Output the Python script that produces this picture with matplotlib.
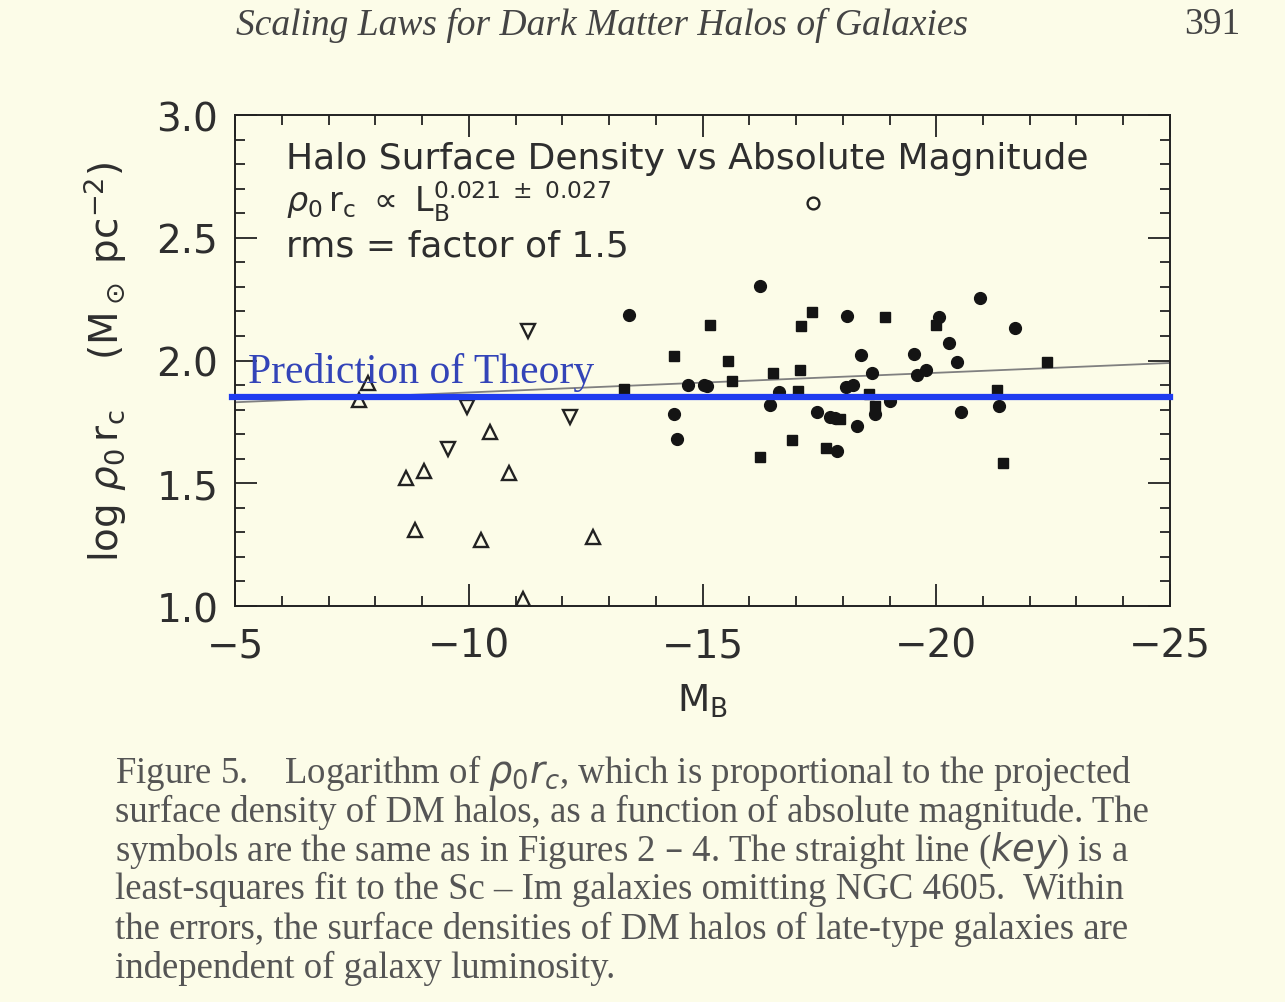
import numpy as np
from matplotlib import pyplot as plt
from matplotlib.ticker import MultipleLocator

plt.rcParams.update({
    "font.family": ["DejaVu Sans"],
    "mathtext.fontset": "dejavusans",
})

# data: (M_B, log rho0 rc)
tri_up_mb = [-7.85, -7.66, -8.65, -9.05, -8.85, -10.45, -10.86, -10.26, -12.66, -11.15]
tri_up_y = [1.91, 1.84, 1.52, 1.55, 1.31, 1.71, 1.54, 1.27, 1.28, 1.03]

tri_dn_mb = [-11.27, -9.96, -12.17, -9.55]
tri_dn_y = [2.12, 1.81, 1.77, 1.64]

open_mb = [-17.36]
open_y = [2.64]

dot_mb = [-13.43, -16.22, -14.69, -15.03, -15.10, -16.64, -16.44, -14.38, -14.46,
          -17.45, -17.73, -17.83, -17.87, -18.10, -20.06, -20.94, -21.68, -18.39,
          -19.52, -20.28, -20.45, -18.62, -19.58, -19.78, -18.08, -18.21, -18.69,
          -19.01, -18.31, -20.52, -21.35]
dot_y = [2.185, 2.305, 1.902, 1.899, 1.895, 1.873, 1.819, 1.782, 1.680,
         1.792, 1.769, 1.766, 1.633, 2.183, 2.178, 2.253, 2.132, 2.024,
         2.026, 2.071, 1.993, 1.949, 1.941, 1.963, 1.891, 1.900, 1.782,
         1.836, 1.732, 1.789, 1.816]

sq_mb = [-15.16, -14.39, -15.55, -17.35, -17.11, -16.50, -17.09, -15.64, -13.31,
         -17.05, -16.91, -16.23, -17.64, -18.90, -19.99, -22.36, -18.57, -18.69,
         -17.94, -21.29, -21.42]
sq_y = [2.145, 2.017, 1.998, 2.199, 2.142, 1.948, 1.961, 1.917, 1.884,
        1.877, 1.677, 1.606, 1.644, 2.176, 2.145, 1.995, 1.864, 1.816,
        1.762, 1.881, 1.582]

fit_mb = [-5, -25]
fit_y = [1.83, 1.99]
theory_y = 1.85

caption = [
    r"Figure 5.    Logarithm of $\rho_0 r_c$, which is proportional to the projected",
    "surface density of DM halos, as a function of absolute magnitude. The",
    r"symbols are the same as in Figures 2 – 4. The straight line ($\mathit{key}$) is a",
    "least-squares fit to the Sc – Im galaxies omitting NGC 4605.  Within",
    "the errors, the surface densities of DM halos of late-type galaxies are",
    "independent of galaxy luminosity.",
]

paper = "#fcfce8"
ink = "#222222"
txt_col = "#2e2e2e"

fig = plt.figure(figsize=(12.85, 10.03), dpi=100, facecolor=paper)
ax = fig.add_axes([0.1829, 0.3948, 0.7276, 0.4895], facecolor=paper)

ax.plot(fit_mb, fit_y, "-", color="#808080", lw=1.3, zorder=2)
ax.plot(tri_up_mb, tri_up_y, "^", ms=9.5, mfc="none", mec=ink, mew=1.7, ls="none")
ax.plot(tri_dn_mb, tri_dn_y, "v", ms=9.5, mfc="none", mec=ink, mew=1.7, ls="none")
ax.plot(open_mb, open_y, "o", ms=8.5, mfc="none", mec=ink, mew=1.7, ls="none")
ax.plot(dot_mb, dot_y, "o", ms=8.5, color="#141414", ls="none")
ax.plot(sq_mb, sq_y, "s", ms=7, color="#141414", ls="none")
ax.axhline(theory_y, color="#1f3cf0", lw=4.5, zorder=5, xmin=-0.003, clip_on=False)

ax.text(-5.28, 1.912, "Prediction of Theory", family="Liberation Serif",
        fontsize=30, color="#3344b8", zorder=6)

ax.set_xlim(-5, -25)
ax.set_ylim(1.0, 3.0)
ax.xaxis.set_major_locator(MultipleLocator(5))
ax.xaxis.set_minor_locator(MultipleLocator(1))
ax.yaxis.set_major_locator(MultipleLocator(0.5))
ax.yaxis.set_minor_locator(MultipleLocator(0.1))
ax.xaxis.set_major_formatter(plt.FuncFormatter(lambda v, p: f"{v:.0f}".replace("-", "\u2212")))
ax.yaxis.set_major_formatter(plt.FuncFormatter(lambda v, p: f"{v:.1f}"))
ax.tick_params(which="both", direction="in", top=True, right=True, colors=ink,
               width=1.3, labelsize=28, labelcolor=txt_col)
ax.tick_params(which="major", length=16)
ax.tick_params(which="minor", length=7)
ax.tick_params(axis="x", pad=15)
ax.tick_params(axis="y", pad=12)
for sp in ax.spines.values():
    sp.set_linewidth(1.4)
    sp.set_color(ink)

ax.set_xlabel(r"M$_\mathrm{B}$", fontsize=27, color=txt_col, labelpad=12)
ax.set_ylabel(r"log $\rho_0\,\mathrm{r_c}$    (M$_\odot$ pc$^{-2}$)", fontsize=28,
              color=txt_col, labelpad=20)

ax.text(0.055, 0.893, "Halo Surface Density vs Absolute Magnitude", transform=ax.transAxes,
        fontsize=26, color=txt_col, va="baseline")
ax.text(0.055, 0.826, r"$\rho_0\,\mathrm{r_c}\ \propto\ \mathrm{L_B^{0.021\ \pm\ 0.027}}$",
        transform=ax.transAxes, fontsize=24, color=txt_col, va="center")
ax.text(0.055, 0.713, "rms = factor of 1.5", transform=ax.transAxes,
        fontsize=26, color=txt_col, va="baseline")

fig.text(0.184, 0.975, "Scaling Laws for Dark Matter Halos of Galaxies", family="Liberation Serif",
         style="italic", fontsize=27, color="#444444", va="center")
fig.text(0.965, 0.975, "391", family="Liberation Serif", fontsize=27,
         color="#444444", va="center", ha="right")

line_y = [773, 812, 851, 889, 929, 968]
for txt, py in zip(caption, line_y):
    fig.text(0.0895, 1 - py / 1003, txt, family="Liberation Serif",
             fontsize=26.5, color="#555555", va="center")

fig.savefig("out.png", dpi=100, facecolor=paper)
